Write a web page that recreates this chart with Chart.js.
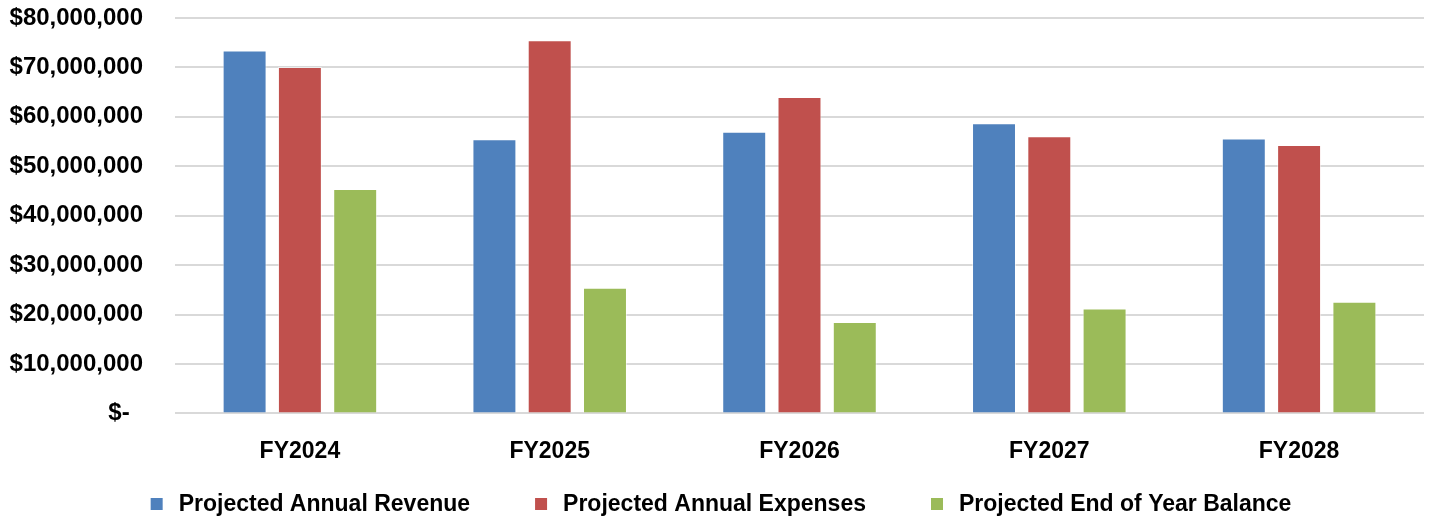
<!DOCTYPE html>
<html>
<head>
<meta charset="utf-8">
<title>Projected Revenue, Expenses and Balance</title>
<script src="https://cdn.jsdelivr.net/npm/chart.js@4/dist/chart.umd.min.js"></script>
<style>
  html, body { margin: 0; padding: 0; background: #ffffff; }
  #wrap { position: relative; width: 1432px; height: 519px; }
</style>
</head>
<body>
<div id="wrap"><canvas id="chart"></canvas></div>
<script>
// Fiscal years on the category axis
const fiscalYears = ['FY2024', 'FY2025', 'FY2026', 'FY2027', 'FY2028'];

// Series values (US dollars)
const projectedRevenue  = [73400000, 55450000, 57000000, 58700000, 55600000];
const projectedExpenses = [70100000, 75500000, 64000000, 56100000, 54300000];
const projectedBalance  = [45400000, 25400000, 18500000, 21200000, 22600000];

// Value axis range and step
const axisMin = 0;
const axisMax = 80000000;
const axisStep = 10000000;

const seriesNames = ['Projected Annual Revenue', 'Projected Annual Expenses', 'Projected End of Year Balance'];
const seriesColors = ['#4F81BD', '#C0504D', '#9BBB59'];

const FONT = '"Liberation Sans", Arial, sans-serif';

function dollarLabel(v) {
  if (v === 0) return '$-  ';
  return '$' + Number(v).toLocaleString('en-US');
}

// Legend drawn below the axis with wide spacing between entries
const bottomLegend = {
  id: 'bottomLegend',
  afterDraw(chart) {
    const ctx = chart.ctx;
    const size = 23;
    const box = 12;
    const boxGap = 16;
    const itemGap = 65;
    ctx.save();
    ctx.font = 'bold ' + size + 'px ' + FONT;
    const items = chart.data.datasets.map(ds => ({
      text: ds.label,
      color: ds.backgroundColor,
      w: ctx.measureText(ds.label).width
    }));
    let total = 0;
    items.forEach((it, i) => { total += box + boxGap + it.w + (i < items.length - 1 ? itemGap : 0); });
    let x = chart.width / 2 - total / 2 + 5;
    const y = 504;
    ctx.textBaseline = 'middle';
    ctx.textAlign = 'left';
    items.forEach(it => {
      ctx.fillStyle = it.color;
      ctx.fillRect(x, y - box / 2, box, box);
      x += box + boxGap;
      ctx.fillStyle = '#000000';
      ctx.fillText(it.text, x, y + 1);
      x += it.w + itemGap;
    });
    ctx.restore();
  }
};

const datasets = [projectedRevenue, projectedExpenses, projectedBalance].map((vals, i) => ({
  label: seriesNames[i],
  data: vals,
  backgroundColor: seriesColors[i],
  borderColor: 'rgba(255,255,255,0.55)',
  borderWidth: 1,
  categoryPercentage: 0.664,
  barPercentage: 0.795
}));

new Chart(document.getElementById('chart'), {
  type: 'bar',
  data: { labels: fiscalYears, datasets },
  options: {
    responsive: true,
    maintainAspectRatio: false,
    animation: false,
    layout: { padding: { top: 18, right: 8, bottom: 30, left: 8 } },
    plugins: {
      legend: { display: false },
      tooltip: { enabled: false }
    },
    scales: {
      x: {
        grid: { display: false, drawTicks: false },
        border: { display: false },
        ticks: {
          color: '#000000',
          padding: 24,
          font: { family: FONT, size: 23, weight: 'bold' }
        }
      },
      y: {
        min: axisMin,
        max: axisMax,
        grid: { color: '#D9D9D9', lineWidth: 2, drawTicks: false },
        border: { display: false },
        afterFit(scale) {
          scale.width = 167;
          scale.paddingTop = 0;
          scale.paddingBottom = 0;
        },
        ticks: {
          stepSize: axisStep,
          color: '#000000',
          padding: 32,
          font: { family: FONT, size: 24, weight: 'bold' },
          callback: (v) => dollarLabel(v)
        }
      }
    }
  },
  plugins: [bottomLegend]
});
</script>
</body>
</html>
